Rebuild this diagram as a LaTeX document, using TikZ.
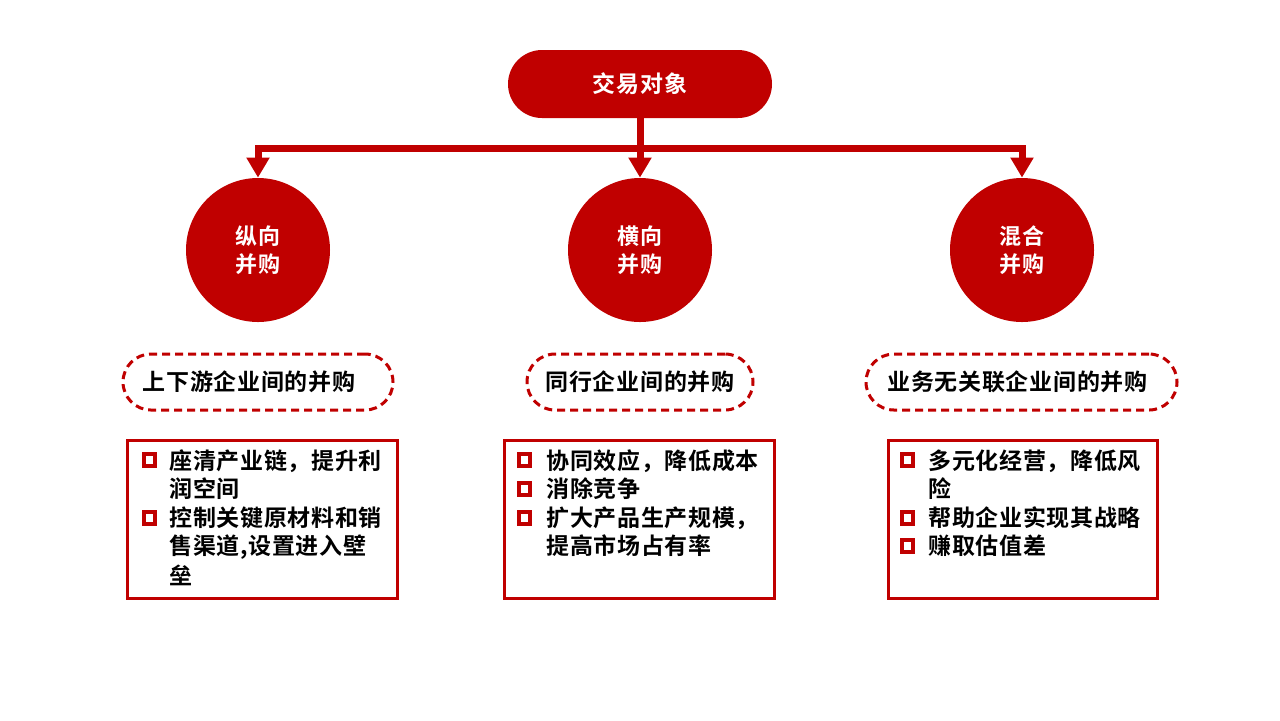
\documentclass[tikz,border=0pt]{standalone}
\usepackage{fontspec}
\setmainfont{Noto Sans CJK SC}[BoldFont={Noto Sans CJK SC Bold}, LetterSpace=3]
\usetikzlibrary{arrows.meta}
\definecolor{myred}{HTML}{C00000}
\begin{document}
\begin{tikzpicture}[x=0.5pt,y=-0.5pt,
  txt/.style={font=\fontsize{11.5pt}{14.3pt}\selectfont\bfseries},
  topbox/.style={txt, fill=myred, rounded corners=17pt, minimum width=132pt, minimum height=34pt, text=white, inner sep=0pt},
  circ/.style={txt, circle, fill=myred, minimum size=72pt, text=white, align=center, inner sep=0pt, font=\fontsize{11pt}{14pt}\selectfont\bfseries},
  conn/.style={myred, line width=3.5pt, -{Triangle[length=10pt,width=11pt]}},
  dashbox/.style={txt, draw=myred, line width=1.5pt, dash pattern=on 4pt off 2.5pt, rounded corners=14pt, minimum height=28pt, inner sep=0pt, text=black},
  listbox/.style={draw=myred, line width=1.5pt, minimum width=135pt, minimum height=79pt, inner sep=0pt},
  bul/.style={draw=myred, line width=2pt, minimum size=5.8pt, inner sep=0pt},
  item/.style={txt, anchor=west, inner sep=0pt, text=black}
]
\fill[white] (0,0) rectangle (1280,720);
\useasboundingbox (0,0) rectangle (1280,720);

\node[topbox] (top) at (640,84) {交易对象};
\node[circ] (c1) at (258,250) {纵向\\并购};
\node[circ] (c2) at (640,250) {横向\\并购};
\node[circ] (c3) at (1022,250) {混合\\并购};
\coordinate (bus) at (640,148);
\draw[conn] (top.south) -- (c2.north);
\draw[conn] (bus) -| (c1.north);
\draw[conn] (bus) -| (c3.north);

\node[dashbox, minimum width=135pt] (d1) at (258,382) {\kern-9pt 上下游企业间的并购};
\node[dashbox, minimum width=113pt] (d2) at (640,382) {同行企业间的并购};
\node[dashbox, minimum width=155.5pt] (d3) at (1021.5,382) {\kern-4pt 业务无关联企业间的并购};

\node[listbox] (b1) at (262,519) {};
\node[listbox] (b2) at (639,519) {};
\node[listbox, minimum width=134.5pt] (b3) at (1022.5,519) {};

% box 1
\node[bul] (b1s1) at (149.5,460) {};
\node[bul] (b1s2) at (149.5,518) {};
\node[item] (b1l1) at (169,461) {座清产业链，提升利};
\node[item] (b1l2) at (169,489) {润空间};
\node[item] (b1l3) at (169,518) {控制关键原材料和销};
\node[item] (b1l4) at (169,547) {售渠道,设置进入壁};
\node[item] (b1l5) at (169,575) {垒};

% box 2
\node[bul] (b2s1) at (524.5,460) {};
\node[bul] (b2s2) at (524.5,489) {};
\node[bul] (b2s3) at (524.5,518) {};
\node[item] (b2l1) at (546,461) {协同效应，降低成本};
\node[item] (b2l2) at (546,489) {消除竞争};
\node[item] (b2l3) at (546,518) {扩大产品生产规模，};
\node[item] (b2l4) at (546,546) {提高市场占有率};

% box 3
\node[bul] (b3s1) at (907.5,460) {};
\node[bul] (b3s2) at (907.5,518) {};
\node[bul] (b3s3) at (907.5,546) {};
\node[item] (b3l1) at (928,461) {多元化经营，降低风};
\node[item] (b3l2) at (928,489) {险};
\node[item] (b3l3) at (928,518) {帮助企业实现其战略};
\node[item] (b3l4) at (928,546) {赚取估值差};
\end{tikzpicture}
\end{document}
